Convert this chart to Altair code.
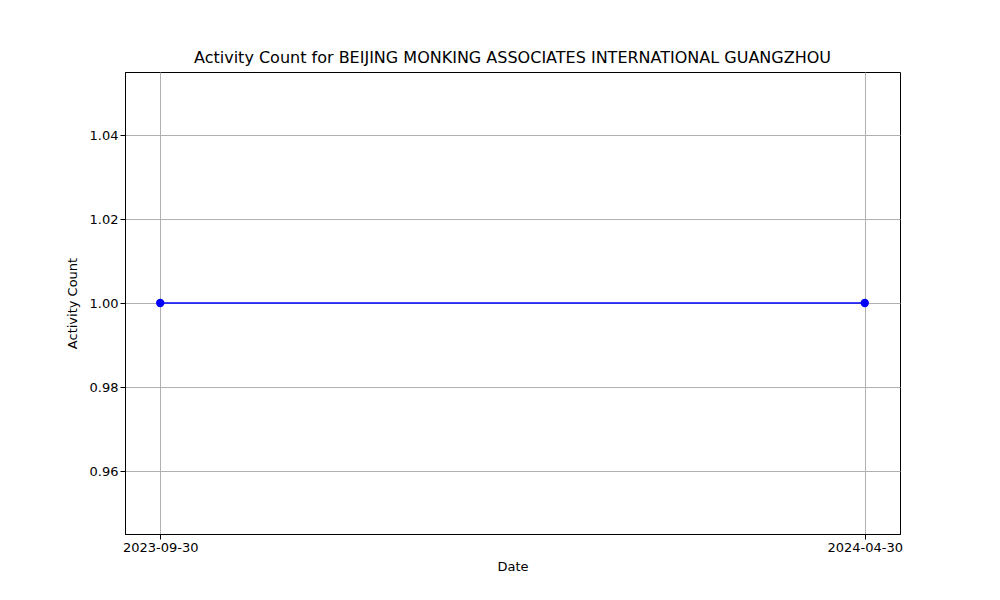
import altair as alt
import pandas as pd

dates = ["2023-09-30", "2024-04-30"]
counts = [1, 1]

data = pd.DataFrame({"idx": list(range(len(dates))), "date": dates, "count": counts})
label_expr = "[" + ",".join(f"'{d}'" for d in dates) + "][datum.value]"

font = "DejaVu Sans"

base = alt.Chart(data).encode(
    x=alt.X(
        "idx:Q",
        title="Date",
        scale=alt.Scale(domain=[-0.05, 1.05], nice=False, zero=False),
        axis=alt.Axis(values=[0, 1], labelExpr=label_expr, grid=True, gridColor="#b0b0b0",
                      tickColor="black", domainColor="black", labelColor="black",
                      labelFontSize=13, titleFontSize=13, titleFontWeight="normal",
                      labelFont=font, titleFont=font, tickSize=5, titlePadding=6),
    ),
    y=alt.Y(
        "count:Q",
        title="Activity Count",
        scale=alt.Scale(domain=[0.945, 1.055], nice=False, zero=False),
        axis=alt.Axis(values=[0.96, 0.98, 1.00, 1.02, 1.04], format=".2f", grid=True,
                      gridColor="#b0b0b0", tickColor="black", domainColor="black",
                      labelColor="black", labelFontSize=13, titleFontSize=13,
                      titleFontWeight="normal", labelFont=font, titleFont=font,
                      tickSize=5, titlePadding=10),
    ),
)

line = base.mark_line(color="blue", strokeWidth=1.5)
pts = base.mark_circle(color="blue", size=70, opacity=1)

chart = (line + pts).properties(
    width=775,
    height=462,
    title=alt.TitleParams("Activity Count for BEIJING MONKING ASSOCIATES INTERNATIONAL GUANGZHOU",
                          fontSize=16, fontWeight="normal", font=font, color="black", offset=6),
    autosize=alt.AutoSizeParams(type="none"),
    padding={"left": 117, "top": 64, "right": 84, "bottom": 50},
).configure_view(stroke="black", strokeWidth=1)

chart.save("out.html", embed_options={"renderer": "svg", "actions": False})
